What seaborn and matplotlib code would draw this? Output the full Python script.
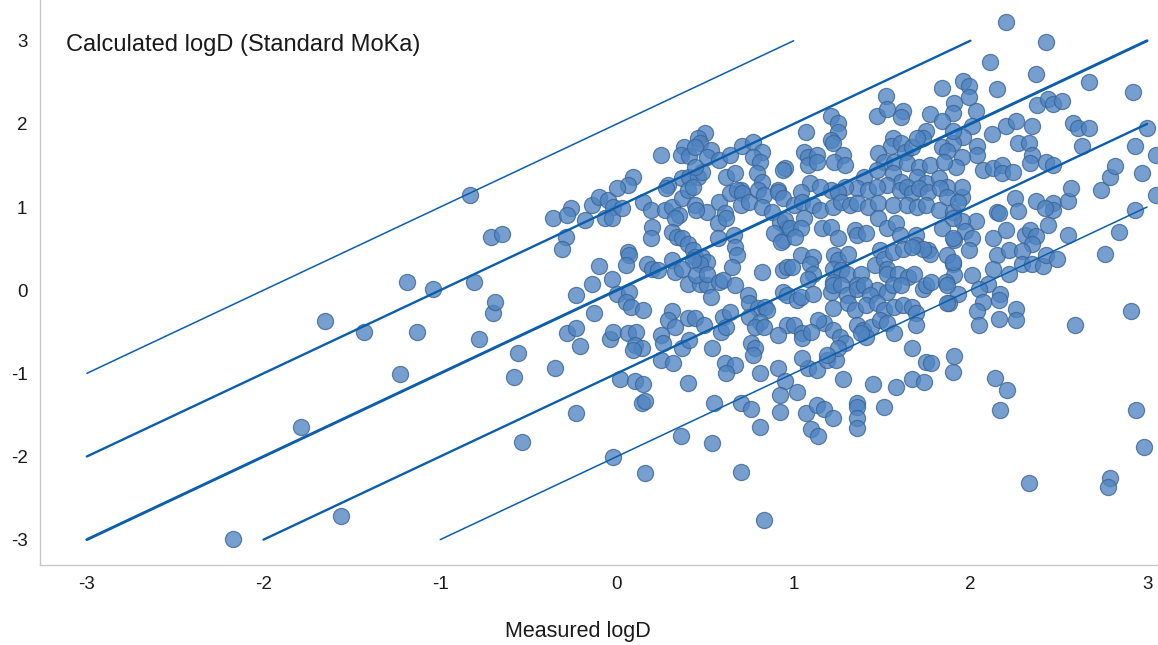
import matplotlib
matplotlib.use("Agg")
import matplotlib.pyplot as plt
import seaborn as sns
import numpy as np
import pandas as pd

# ---- data ----
measured = [
    -2.17, -1.79, -1.56, -1.65, -1.43, -1.23, -1.19, -1.13, -1.04, -0.83, -0.81, -0.78, -0.71, -0.65, -0.70, -0.69,
    -0.58, -0.56, -0.54, -0.35,
    -0.36, -0.26, -0.28, -0.18, -0.29, -0.31, -0.14, -0.10, -0.05, -0.02, -0.07, -0.03, -0.10, -0.03, -0.14, 0.00,
    -0.23, -0.13, -0.28, -0.23, -0.21, -0.04, -0.02,
    -0.23, -0.02, 0.02,
    0.10, 0.15, 0.14, 0.16, 0.40, 0.16, 0.36, 0.54, 0.55, 0.70, 0.76, 0.81, 0.70, 0.83, 0.81, 0.91, 0.95, 0.92, 0.92,
    0.25, 0.32, 0.61, 0.67, 0.62,
    1.08, 1.13, 1.02, 1.07, 1.13, 1.17, 1.22, 1.10, 1.14, 1.28, 1.36, 1.36, 1.36, 1.36, 1.45, 1.51, 1.58, 1.67, 1.74,
    1.75, 1.78, 1.90, 1.19, 1.24,
    2.14, 2.21, 2.17, 2.33, 2.79, 2.78, 2.94, 2.98,
    1.95, 2.25, 2.37, 2.47, 2.47, 2.42, 2.55, 2.57, 2.74, 2.93, 3.05, 2.15, 2.16, 2.27, 2.03, 1.95, 1.97, 2.01, 1.91,
    1.99, 2.13, 2.20, 2.31, 2.34, 2.37, 2.35, 2.44, 2.55, 2.84, 2.76, 2.15, 2.22, 2.29, 2.29, 2.35, 2.41, 2.43, 2.49,
    2.13, 1.90, 1.91, 2.01, 2.22, 2.10, 2.05, 1.93, 2.07, 2.17, 2.16, 2.04, 2.26, 2.26, 2.16, 2.05, 2.59, 2.91, 1.91,
    1.88,
    2.20, 2.43, 2.11, 2.37, 2.67, 2.92, 1.96, 1.99, 2.15, 1.99, 1.91, 1.90, 2.03, 2.38, 2.44, 2.47, 2.52, 3.00, 3.05,
    2.93, 2.58, 2.61, 2.67, 2.63, 2.20, 2.26, 2.35, 2.12, 2.01, 2.27, 2.33, 2.35, 1.96, 2.04, 2.04, 2.34, 2.43, 2.47,
    2.07, 2.13, 2.18, 2.18, 2.24, 2.79, 2.82, 2.97, 1.95, 1.92, 1.90, 1.95,
    1.84, 1.52, 1.47, 1.53, 1.62, 1.61, 1.21, 1.25, 1.25, 1.21, 1.22, 1.07, 1.77, 1.84, 1.75, 1.73, 1.90, 1.06, 1.08,
    1.08, 1.13, 1.13, 1.28, 1.23, 1.29, 0.95, 1.56, 1.55, 1.61, 1.63, 1.67, 1.70, 1.48, 1.51, 1.57, 1.64, 1.71, 1.77,
    1.84, 1.87, 1.85, 1.40, 1.47, 1.56, 1.61, 1.53, 1.70, 1.75, 1.82, 1.87, 1.36, 1.29, 1.21, 1.09, 1.04, 1.15,
    1.25, 1.42, 1.47, 1.60, 1.64, 1.67, 1.71, 1.76, 1.83, 1.87,
    0.25, 0.50, 0.46, 0.47, 0.38, 0.36, 0.41, 0.44, 0.53, 0.51, 0.58, 0.64, 0.71, 0.77, 0.82, 0.77, 0.81, 0.94, 0.09,
    0.06, 0.29, 0.37, 0.41, 0.46, 0.48, 0.44, 0.62, 0.67, 0.79, 0.82, 0.70, 0.91,
    0.00, 0.03, 0.15, 0.19, 0.28, 0.27, 0.31, 0.35, 0.33, 0.20, 0.19, 0.31, 0.34, 0.37, 0.37, 0.40, 0.43, 0.44, 0.51,
    0.45, 0.58, 0.61, 0.64, 0.68, 0.71, 0.70, 0.75, 0.80, 0.83, 0.82, 0.91, 0.94, 0.88, 0.92, 0.96, 0.94, 0.89, 0.57,
    0.62, 0.57, 0.66, 0.67, 0.68, 0.40, 0.43, 0.44, 0.48, 0.51, 0.47, 0.43, 0.31, 0.33, 0.37, 0.06, 0.07, 0.05, 0.17,
    0.20, 0.23, 0.40, 0.47, 0.51, 0.45, 0.51, 0.58, 0.60, 0.65, 0.67, 0.82, 0.94, 0.07, 0.05, 0.08, 0.15, 0.53, 0.31,
    0.29, 0.33, 0.40, 0.44, 0.49, 0.59, 0.60, 0.64, 0.74, 0.75, 0.80, 0.84, 0.85, 0.75, 0.81, 0.78, 0.83, 0.94, 0.96,
    0.91, 0.06, 0.11, 0.10, 0.14, 0.09, 0.25, 0.26, 0.37, 0.41, 0.54, 0.62, 0.76, 0.78, 0.77,
    1.00, 1.05, 1.11, 1.15, 1.22, 1.27, 1.32, 1.36, 1.42, 1.48, 1.56, 1.64, 1.70, 1.75, 1.82, 1.90, 1.93, 0.95, 0.98,
    0.93, 1.06, 1.04, 1.01, 1.16, 1.21, 1.25, 1.35, 1.36, 1.41, 1.48, 1.53, 1.58, 1.60, 1.69, 1.69, 1.76, 1.77, 1.73,
    1.84, 1.90, 1.90, 1.87, 1.90, 1.04, 1.11, 0.96, 0.99, 1.09, 1.11, 1.08, 1.23, 1.25, 1.31, 1.22, 1.27, 1.30, 1.22,
    1.38, 1.36, 1.46, 1.49, 1.51, 1.53, 1.53, 1.56, 1.62, 1.67, 1.59, 1.65, 1.68, 1.47, 1.53, 1.56, 1.61, 1.73, 1.75,
    1.78, 1.86, 1.87, 1.87, 0.96, 1.02, 1.04, 1.11, 1.21, 1.22, 1.27, 1.30, 1.36, 1.40, 1.43, 1.31, 1.35, 1.22, 1.41,
    1.47, 1.51, 1.57, 1.62, 1.67, 1.69, 1.69, 1.36, 1.39, 1.44, 1.41, 1.38, 1.49, 1.53, 1.57, 1.17, 1.22, 1.26, 1.29,
    1.25, 1.00, 1.05, 1.05, 1.14, 1.10, 1.19, 1.05, 1.67,
]
calculated = [
    -2.99, -1.65, -2.72, -0.37, -0.50, -1.01, 0.10, -0.50, 0.02, 1.14, 0.10, -0.59, 0.64, 0.67, -0.28, -0.14,
    -1.05, -0.75, -1.83, -0.94,
    0.87, 0.99, 0.90, 0.84, 0.64, 0.49, 1.02, 1.12, 1.08, 1.00, 0.87, 0.87, 0.29, 0.14, 0.07, -0.04,
    -0.06, -0.28, -0.52, -0.46, -0.67, -0.59, -0.50,
    -1.48, -2.01, -1.07,
    -1.09, -1.13, -1.36, -1.33, -1.12, -2.20, -1.75, -1.84, -1.36, -1.36, -1.43, -1.65, -2.19, -2.76, -0.99, -0.93,
    -1.09, -1.26, -1.47,
    -0.84, -0.88, -0.88, -0.90, -0.99,
    -0.94, -0.96, -1.23, -1.48, -1.38, -1.43, -1.54, -1.67, -1.75, -1.07, -1.36, -1.41, -1.54, -1.66, -1.13, -1.41,
    -1.17, -1.07, -1.10, -0.86, -0.88, -0.98, -0.84, -0.84,
    -1.06, -1.20, -1.44, -2.32, -2.26, -2.37, -1.44, -1.88,
    1.12, 1.11, 1.07, 1.05, 0.96, 0.99, 1.07, 1.23, 1.21, 0.96, 1.14, 0.94, 0.93, 0.95, 0.83, 0.83, 0.71, 0.63, 0.60,
    0.48, 0.63, 0.72, 0.66, 0.72, 0.65, 0.56, 0.79, 0.66, 0.70, 0.44, 0.42, 0.48, 0.47, 0.31, 0.32, 0.29, 0.42, 0.38,
    0.26, 0.31, 0.18, 0.18, 0.19, 0.08, 0.01, -0.04, -0.14, -0.04, -0.12, -0.25, -0.23, -0.36, -0.35, -0.42, -0.42,
    -0.25, -0.79, -0.16,
    3.23, 2.98, 2.74, 2.60, 2.50, 2.38, 2.52, 2.45, 2.42, 2.32, 2.25, 2.13, 2.16, 2.23, 2.30, 2.24, 2.28, 1.95, 1.62,
    1.74, 2.01, 1.95, 1.95, 1.74, 1.98, 2.03, 1.98, 1.88, 1.98, 1.77, 1.77, 1.63, 1.84, 1.74, 1.62, 1.53, 1.54, 1.51,
    1.45, 1.47, 1.51, 1.41, 1.42, 1.36, 1.49, 1.41, 1.60, 1.48, 1.77, 1.24,
    2.43, 2.33, 2.09, 2.18, 2.16, 2.08, 2.09, 2.01, 1.90, 1.81, 1.77, 1.90, 2.12, 2.03, 1.92, 1.83, 1.92, 1.66, 1.60,
    1.50, 1.63, 1.54, 1.62, 1.54, 1.50, 1.47, 1.83, 1.73, 1.77, 1.66, 1.72, 1.83, 1.65, 1.54, 1.54, 1.53, 1.48, 1.50,
    1.72, 1.68, 1.54, 1.36, 1.44, 1.41, 1.30, 1.26, 1.36, 1.29, 1.35, 1.24, 1.23, 1.24, 1.20, 1.29, 1.18, 1.24,
    1.18, 1.20, 1.24, 1.20, 1.24, 1.17, 1.23, 1.18, 1.23, 1.12,
    1.63, 1.89, 1.83, 1.77, 1.72, 1.62, 1.61, 1.72, 1.69, 1.60, 1.56, 1.63, 1.73, 1.78, 1.66, 1.60, 1.54, 1.44, 1.36,
    1.26, 1.26, 1.35, 1.36, 1.36, 1.42, 1.48, 1.36, 1.41, 1.41, 1.30, 1.20, 1.20,
    1.23, 0.99, 1.06, 0.96, 1.23, 0.96, 1.00, 0.90, 0.87, 0.76, 0.63, 0.70, 0.64, 0.63, 1.11, 1.20, 1.24, 1.02, 0.94,
    0.96, 1.06, 0.93, 1.17, 1.20, 1.17, 1.02, 1.06, 1.20, 1.14, 1.00, 1.18, 1.11, 0.94, 0.82, 0.75, 0.60, 0.69, 0.81,
    0.87, 0.63, 0.66, 0.52, 0.42, 0.56, 0.48, 0.40, 0.40, 0.34, 0.32, 0.36, 0.36, 0.22, 0.26, 0.46, 0.42, 0.30, 0.32,
    0.26, 0.24, 0.08, 0.08, 0.06, 0.18, 0.20, 0.10, 0.12, 0.28, 0.06, 0.22, 0.24, -0.02, -0.14, -0.20, -0.24, -0.08,
    -0.25, -0.36, -0.44, -0.34, -0.34, -0.42, -0.50, -0.32, -0.26, -0.06, -0.16, -0.22, -0.20, -0.24, -0.32, -0.38,
    -0.44, -0.44, -0.02, -0.42, -0.54, -0.52, -0.50, -0.66, -0.69, -0.72, -0.54, -0.63, -0.70, -0.60, -0.69, -0.44,
    -0.63, -0.70, -0.78,
    1.02, 1.06, 1.02, 0.96, 1.00, 1.06, 1.02, 1.05, 1.00, 1.05, 1.02, 1.02, 1.00, 1.02, 0.96, 0.94, 1.06, 0.84, 0.75,
    0.58, 0.87, 0.75, 0.64, 0.75, 0.76, 0.63, 0.72, 0.66, 0.69, 0.87, 0.75, 0.81, 0.66, 0.66, 0.54, 0.48, 0.44, 0.50,
    0.75, 0.87, 0.63, 0.42, 0.34, 0.42, 0.40, 0.28, 0.28, 0.32, 0.20, 0.14, 0.42, 0.36, 0.44, 0.26, 0.24, 0.20, 0.10,
    0.20, 0.06, 0.30, 0.48, 0.38, 0.26, 0.20, 0.46, 0.50, 0.52, 0.20, 0.16, 0.20, 0.00, -0.02, 0.06, 0.06, 0.02, 0.06,
    0.10, 0.10, 0.06, -0.16, -0.06, -0.12, -0.08, -0.04, -0.02, 0.06, 0.06, -0.06, 0.02, 0.06, -0.06, -0.16, -0.24,
    -0.22, -0.18, -0.16, -0.24, -0.20, -0.18, -0.20, -0.28, -0.42, -0.42, -0.48, -0.44, -0.56, -0.52, -0.36, -0.40,
    -0.52, -0.40, -0.48, -0.56, -0.64, -0.70, -0.42, -0.52, -0.58, -0.36, -0.50, -0.78, -0.82, -0.70,
]

line_offsets = [2, 1, 0, -1, -2]
line_widths = [1.1, 1.7, 2.1, 1.7, 1.1]
xticks = [-3, -2, -1, 0, 1, 2, 3]
yticks = [-3, -2, -1, 0, 1, 2, 3]
x_label = "Measured logD"
y_label = "Calculated logD (Standard MoKa)"

n = min(len(measured), len(calculated))
df = pd.DataFrame({"measured": measured[:n], "calculated": calculated[:n]})

sns.set_style("white")
plt.rcParams["font.family"] = ["Liberation Sans", "DejaVu Sans"]

fig = plt.figure(figsize=(11.58, 6.45), dpi=100)
ax = fig.add_axes([40 / 1158, 80 / 645, 1118 / 1158, 565 / 645])

sns.scatterplot(data=df, x="measured", y="calculated", ax=ax, s=135,
                color="#4f84c2", alpha=0.78, edgecolor="#3a6494", linewidth=0.9, zorder=2)

lo, hi = -3.0, 3.0
for c, lw in zip(line_offsets, line_widths):
    x0 = max(lo, lo - c)
    x1 = min(hi, hi - c)
    xs = np.array([x0, x1])
    sns.lineplot(x=xs, y=xs + c, ax=ax, color="#0b5eab", linewidth=lw, zorder=3)

ax.set_xlim(-3.265, 3.062)
ax.set_ylim(-3.305, 3.49)
ax.set_xticks(xticks)
ax.set_yticks(yticks)
ax.set_xticklabels([str(t) for t in xticks])
ax.set_yticklabels([str(t) for t in yticks])
ax.set_xlabel("")
ax.set_ylabel("")

for s in ["top", "right"]:
    ax.spines[s].set_visible(False)
for s in ["left", "bottom"]:
    ax.spines[s].set_color("#c8c8c8")
    ax.spines[s].set_linewidth(1.0)
ax.tick_params(axis="both", direction="out", length=4, width=1, color="#c8c8c8",
               labelsize=13.5, labelcolor="#1a1a1a")
ax.tick_params(axis="x", pad=4)
ax.tick_params(axis="y", pad=5)

ax.text((66 - 40) / 1118, 1 - 45 / 565, y_label, transform=ax.transAxes,
        ha="left", va="center", fontsize=17, color="#1a1a1a")
fig.text(578 / 1158, 1 - 632 / 645, x_label, ha="center", va="center", fontsize=15.5, color="#1a1a1a")

fig.savefig("out.png", dpi=100)
